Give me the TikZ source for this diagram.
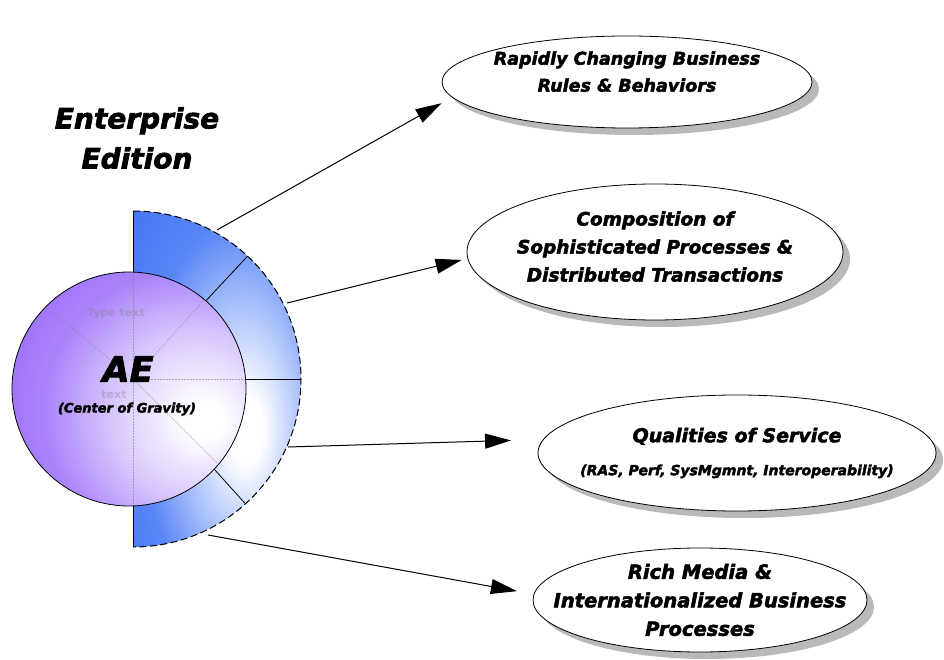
\documentclass[tikz,border=0pt]{standalone}
\usepackage{fontspec}
\setmainfont{DejaVu Sans}[BoldItalicFeatures={FakeBold=2.5}]
\usetikzlibrary{shapes.geometric}
\usetikzlibrary{shadows}
\usetikzlibrary{arrows.meta}
\usetikzlibrary{positioning}

\definecolor{sblue}{RGB}{70,120,245}
\definecolor{pviolet}{RGB}{155,110,250}

\pgfdeclareradialshading{semishade}{\pgfpoint{9bp}{-8bp}}{%
  color(0bp)=(white); color(5bp)=(white); color(20bp)=(sblue!55);
  color(29bp)=(sblue!90); color(42bp)=(sblue); color(100bp)=(sblue)}
\pgfdeclareradialshading{ballshade}{\pgfpoint{17bp}{-7bp}}{%
  color(0bp)=(white); color(4bp)=(white); color(18bp)=(pviolet!40);
  color(30bp)=(pviolet!85); color(40bp)=(pviolet); color(100bp)=(pviolet)}

\tikzset{
  goal/.style={ellipse, draw, line width=0.8pt, fill=white, inner xsep=-80pt, inner ysep=-30pt, align=center,
    drop shadow={shadow xshift=7pt, shadow yshift=-7pt, fill=gray!55, opacity=1}},
  link/.style={-{Triangle[length=26pt,width=15pt]}, line width=1pt},
  ghost/.style={text=gray, opacity=0.35, inner sep=0pt, font=\bfseries\fontsize{11}{18}\selectfont},
  faint/.style={gray, opacity=0.6, line width=0.5pt, dash pattern=on 2pt off 1pt}
}

\begin{document}
\begin{tikzpicture}[x=1pt,y=1pt]
  \useasboundingbox (0,0) rectangle (944,659);
  \coordinate (c) at (133,280);

  % the edition shell
  \shade[shading=semishade] (133,112) -- (133,448) arc[start angle=90, end angle=-90, radius=168] -- cycle;
  \draw[line width=0.8pt] (133,112) -- (133,448);
  \draw[line width=1pt, dash pattern=on 7pt off 3.5pt] (133,448) arc[start angle=90, end angle=-90, radius=168];
  \foreach \a in {47,0,-48}
    \draw[line width=0.8pt] (c) -- ++(\a:168);

  % center of gravity
  \shade[shading=ballshade] (129,270) circle[radius=117];
  \begin{scope}
    \clip (129,270) circle[radius=117];
    \foreach \a in {90,48,0,-45,-90,140}
      \draw[faint] (c) -- ++(\a:140);
  \end{scope}
  \node[ghost] (type1) at (116,345) {Type text};
  \node[ghost] (type2) at (114,264) {text};
  \draw[line width=0.8pt] (129,270) circle[radius=117];
  \node[inner sep=0pt, font=\bfseries\itshape\fontsize{35}{40}\selectfont] (ae) at (128,290) {AE};
  \node[inner sep=0pt, font=\bfseries\itshape\fontsize{13}{16}\selectfont] (gravity) at (127,250) {(Center of Gravity)};

  \node[align=center, font=\bfseries\itshape\fontsize{28}{40}\selectfont] (edition) at (137,521) {Enterprise\\Edition};

  % goals
  \node[goal, minimum width=370pt, minimum height=92pt, font=\bfseries\itshape\fontsize{17.5}{27}\selectfont]
    (rules) at (627,577) {Rapidly Changing Business\\Rules \& Behaviors\\[-6pt]\mbox{}};
  \node[goal, minimum width=376pt, minimum height=136pt, font=\bfseries\itshape\fontsize{18.5}{28}\selectfont]
    (compose) at (655,407) {Composition of\\Sophisticated Processes \&\\Distributed Transactions\\[-17pt]\mbox{}};
  \node[goal, minimum width=398pt, minimum height=116pt, font=\bfseries\itshape\fontsize{19}{33}\selectfont]
    (qos) at (737,206) {Qualities of Service\\{\fontsize{14}{33}\selectfont(RAS, Perf, SysMgmnt, Interoperability)}};
  \node[goal, minimum width=334pt, minimum height=104pt, font=\bfseries\itshape\fontsize{19.5}{28.5}\selectfont]
    (media) at (700,59) {Rich Media \&\\Internationalized Business\\Processes};

  \coordinate (s1) at (217,429);
  \coordinate (s2) at (287,356);
  \coordinate (s3) at (288,212);
  \coordinate (s4) at (208,124);

  \draw[link, shorten >=12pt] (s1) -- (rules.185);
  \draw[link, shorten >=6pt] (s2) -- (compose.182);
  \draw[link, shorten >=32pt] (s3) -- (qos.176);
  \draw[link, shorten >=17pt] (s4) -- (media.178);
\end{tikzpicture}
\end{document}
